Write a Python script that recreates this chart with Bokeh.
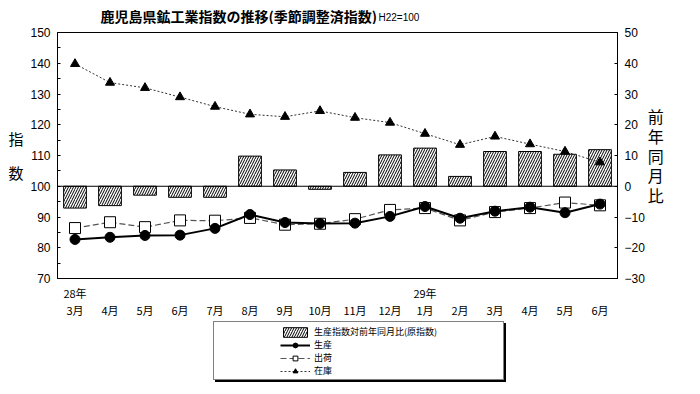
from bokeh.plotting import figure
from bokeh.layouts import column
from bokeh.models import Range1d, LinearAxis, FixedTicker, Label, Legend, LegendItem, Span
from bokeh.embed import file_html
from bokeh.resources import INLINE

# ---- data ----
months = ["3月", "4月", "5月", "6月", "7月", "8月", "9月", "10月", "11月", "12月",
          "1月", "2月", "3月", "4月", "5月", "6月"]
year_labels = {0: "28年", 10: "29年"}
yoy = [-7.1, -6.3, -2.9, -3.6, -3.6, 9.8, 5.3, -1.0, 4.5, 10.2, 12.4, 3.2, 11.3, 11.3, 10.4, 11.9]
production = [82.7, 83.4, 84.0, 84.1, 86.3, 90.8, 88.2, 87.9, 88.0, 90.2, 93.4, 89.6, 91.9, 93.2, 91.4, 94.2]
shipments = [86.4, 88.3, 86.7, 88.9, 88.8, 89.7, 87.5, 87.8, 89.3, 92.3, 92.9, 88.9, 91.6, 92.9, 94.7, 93.8]
inventory = [139.8, 133.7, 132.0, 129.0, 125.9, 123.4, 122.6, 124.5, 122.3, 120.7, 117.1, 113.5,
             116.2, 113.7, 111.3, 107.8]
left_ticks = [70, 80, 90, 100, 110, 120, 130, 140, 150]
right_ticks = [-30, -20, -10, 0, 10, 20, 30, 40, 50]
title_text = "鹿児島県鉱工業指数の推移(季節調整済指数)"
base_text = "H22=100"
left_label = "指\n数"
right_label = "前\n年\n同\n月\n比"
legend_labels = ["生産指数対前年同月比(原指数)", "生産", "出荷", "在庫"]

xs = list(range(len(months)))
JP = "Noto Sans CJK JP"
NUM = "Liberation Sans"
W = 700
BL, BR = 57, 83          # side borders shared by all strips
TH, MH = 24, 297         # heights of title strip and main chart

# ---------------- title strip ----------------
tf = figure(width=W, height=TH, output_backend="svg", toolbar_location=None,
            x_range=Range1d(BL, W - BR), y_range=Range1d(TH, 0),
            x_axis_location=None, y_axis_location=None,
            min_border_left=BL, min_border_right=BR, min_border_top=0, min_border_bottom=0,
            outline_line_color=None)
tf.xgrid.visible = False
tf.ygrid.visible = False
tf.add_layout(Label(x=100, y=15, text=title_text, text_font=JP, text_font_size="14px",
                    text_font_style="bold", text_baseline="middle", text_align="left", text_color="black"))
tf.add_layout(Label(x=378, y=17, text=base_text, text_font=NUM, text_font_size="10px",
                    text_baseline="middle", text_align="left", text_color="black"))

# ---------------- main chart ----------------
p = figure(width=W, height=MH, output_backend="svg", toolbar_location=None,
           x_range=Range1d(-0.5, len(months) - 0.5), y_range=Range1d(70, 150),
           min_border_left=BL, min_border_right=BR, min_border_top=8, min_border_bottom=40,
           background_fill_color="white", border_fill_color="white")
p.extra_y_ranges = {"right": Range1d(-30, 50)}
p.xgrid.visible = False
p.ygrid.visible = False
p.outline_line_color = "black"
p.outline_line_width = 1

# x axis: year (first line, only where it changes) + month (second line)
xa = p.xaxis[0]
xa.ticker = FixedTicker(ticks=xs)
xa.major_label_overrides = {i: year_labels.get(i, "") + "\n" + m for i, m in enumerate(months)}
xa.major_tick_line_color = None
xa.major_tick_in = 0
xa.major_tick_out = 0
xa.minor_tick_line_color = None
xa.minor_tick_in = 0
xa.minor_tick_out = 0
xa.axis_line_color = "black"
xa.major_label_standoff = 6
xa.major_label_text_font = JP
xa.major_label_text_font_size = "11px"
xa.major_label_text_line_height = 1.1
xa.major_label_text_color = "black"

# left axis
ya = p.yaxis[0]
ya.ticker = FixedTicker(ticks=left_ticks, minor_ticks=[t + 5 for t in left_ticks[:-1]])
ya.major_tick_in = 3
ya.major_tick_out = 0
ya.minor_tick_in = 3
ya.minor_tick_out = 0
ya.axis_line_color = "black"
ya.major_tick_line_color = "black"
ya.minor_tick_line_color = "black"
ya.major_label_standoff = 7
ya.major_label_text_font = NUM
ya.major_label_text_font_size = "12px"
ya.major_label_text_color = "black"
ya.axis_label = left_label
ya.axis_label_orientation = "horizontal"
ya.axis_label_standoff = 4
ya.axis_label_text_font = JP
ya.axis_label_text_font_size = "15px"
ya.axis_label_text_font_style = "normal"
ya.axis_label_text_line_height = 1.66
ya.axis_label_text_color = "black"

# right axis
ra = LinearAxis(y_range_name="right", ticker=FixedTicker(ticks=right_ticks))
ra.major_tick_in = 3
ra.major_tick_out = 0
ra.minor_tick_line_color = None
ra.axis_line_color = "black"
ra.major_label_standoff = 7
ra.major_label_text_font = NUM
ra.major_label_text_font_size = "12px"
ra.major_label_text_color = "black"
ra.axis_label = right_label
ra.axis_label_orientation = "horizontal"
ra.axis_label_standoff = 0
ra.axis_label_text_font = JP
ra.axis_label_text_font_size = "16px"
ra.axis_label_text_font_style = "normal"
ra.axis_label_text_line_height = 0.83
ra.axis_label_text_color = "black"
p.add_layout(ra, "right")

bar_style = dict(fill_color="white", line_color="black", line_width=1,
                 hatch_pattern="/", hatch_color="black", hatch_scale=5, hatch_weight=1)
inv_line = dict(line_color="#333333", line_width=1, line_dash="2 2")
inv_mark = dict(marker="triangle", size=9, fill_color="black", line_color="black")
shp_line = dict(line_color="#555555", line_width=1.2, line_dash="6 3")
shp_mark = dict(marker="square", size=11, fill_color="white", line_color="black", line_width=1)
prd_line = dict(line_color="black", line_width=2)
prd_mark = dict(marker="circle", size=10, fill_color="black", line_color="black")

p.vbar(x=xs, top=yoy, bottom=0, width=0.65, y_range_name="right", **bar_style)
p.add_layout(Span(location=100, dimension="width", line_color="black", line_width=1))
p.line(xs, inventory, **inv_line)
p.scatter(xs, inventory, **inv_mark)
p.line(xs, shipments, **shp_line)
p.scatter(xs, shipments, **shp_mark)
p.line(xs, production, **prd_line)
p.scatter(xs, production, **prd_mark)

# ---------------- legend strip ----------------
LH = 394 - TH - MH
lf = figure(width=W, height=LH, output_backend="svg", toolbar_location=None,
            x_range=Range1d(0, 1), y_range=Range1d(0, 1),
            x_axis_location=None, y_axis_location=None,
            min_border_left=BL, min_border_right=BR, min_border_top=0, min_border_bottom=0,
            outline_line_color=None)
lf.xgrid.visible = False
lf.ygrid.visible = False
# legend-only renderers: one point placed outside the visible range
ox, oy = [-10, -10], [-10, -10]
dummy = lf.scatter(x=ox, y=oy, fill_alpha=0, line_alpha=0)
lb = lf.vbar(x=ox, top=oy, bottom=-20, width=0.5, **bar_style)
lpl = lf.line(x=ox, y=oy, **prd_line)
lps = lf.scatter(x=ox, y=oy, **prd_mark)
lsl = lf.line(x=ox, y=oy, **shp_line)
lss = lf.scatter(x=ox, y=oy, **shp_mark)
lil = lf.line(x=ox, y=oy, **inv_line)
lis = lf.scatter(x=ox, y=oy, **inv_mark)

for off, bg in [((215 - BL, 12), "black"), ((213 - BL, 14), "white")]:
    box = Legend(items=[LegendItem(label=" ", renderers=[dummy])], location=off,
                 padding=0, margin=0, spacing=0, glyph_width=289, glyph_height=57,
                 label_standoff=0, label_width=0, label_height=0,
                 label_text_font_size="2px",
                 background_fill_color=bg, background_fill_alpha=1,
                 border_line_color="black", border_line_width=1)
    lf.add_layout(box)

leg = Legend(items=[LegendItem(label=legend_labels[0], renderers=[lb]),
                    LegendItem(label=legend_labels[1], renderers=[lpl, lps]),
                    LegendItem(label=legend_labels[2], renderers=[lsl, lss]),
                    LegendItem(label=legend_labels[3], renderers=[lil, lis])],
             location=(280 - BL, 17), padding=0, margin=0, spacing=0,
             glyph_width=30, glyph_height=12, label_height=12, label_standoff=4,
             label_text_font=JP, label_text_font_size="9px", label_text_color="black",
             background_fill_alpha=0, border_line_color=None)
lf.add_layout(leg)

layout = column(tf, p, lf, spacing=0)
open("out.html", "w").write(file_html(layout, INLINE))
